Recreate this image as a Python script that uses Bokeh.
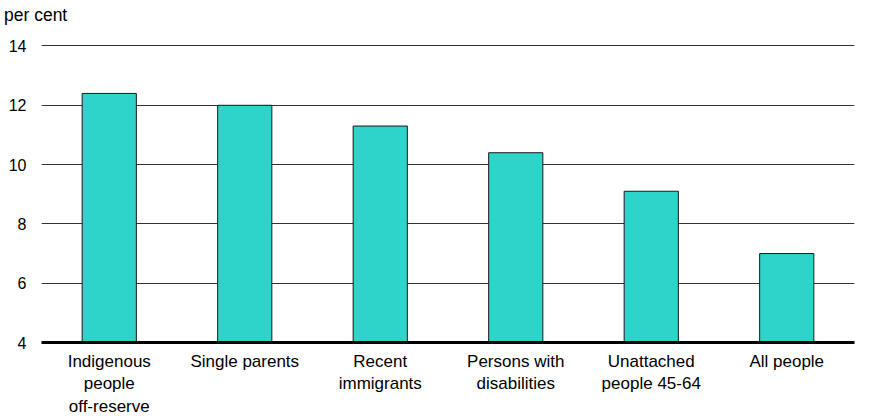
from bokeh.plotting import figure
from bokeh.models import FixedTicker, Div
from bokeh.layouts import column
from bokeh.embed import file_html
from bokeh.resources import INLINE

categories = ["Indigenous\npeople\noff-reserve", "Single parents", "Recent\nimmigrants",
              "Persons with\ndisabilities", "Unattached\npeople 45-64", "All people"]
values = [12.4, 12.0, 11.3, 10.4, 9.1, 7.0]
y_ticks = [4, 6, 8, 10, 12, 14]
y_unit = "per cent"

FONT = "Liberation Sans"

header = Div(text=y_unit, width=200, height=30,
             styles={"font-family": FONT, "font-size": "17.5px", "color": "black",
                     "line-height": "20px", "padding-top": "5px", "padding-left": "4px",
                     "margin": "0px"})

p = figure(x_range=categories, y_range=(4, 14.05),
           frame_width=813, frame_height=298,
           output_backend="svg", toolbar_location=None,
           min_border_left=41, min_border_right=7, min_border_top=14, min_border_bottom=60)
p.outline_line_color = None
p.background_fill_color = "white"

p.vbar(x=categories, top=values, bottom=4, width=0.4,
       fill_color="#2ED3CA", line_color="#1a1a1a", line_width=1)

p.xgrid.grid_line_color = None
p.ygrid.grid_line_color = "#333333"
p.ygrid.grid_line_width = 1
p.ygrid.ticker = FixedTicker(ticks=y_ticks[1:])

p.yaxis.ticker = FixedTicker(ticks=y_ticks)
p.yaxis.axis_line_color = None
p.yaxis.major_tick_line_color = None
p.yaxis.major_tick_out = 0
p.yaxis.minor_tick_line_color = None
p.yaxis.minor_tick_out = 0
p.yaxis.major_label_text_font = FONT
p.yaxis.major_label_text_font_size = "16px"
p.yaxis.major_label_text_color = "black"
p.yaxis.major_label_standoff = 15

p.xaxis.axis_line_color = "black"
p.xaxis.axis_line_width = 3
p.xaxis.major_tick_line_color = None
p.xaxis.major_tick_out = 0
p.xaxis.minor_tick_line_color = None
p.xaxis.minor_tick_out = 0
p.xaxis.major_label_text_font = FONT
p.xaxis.major_label_text_font_size = "17px"
p.xaxis.major_label_text_color = "black"
p.xaxis.major_label_standoff = 9

layout = column(header, p, spacing=0)

open("out.html", "w").write(file_html(layout, INLINE))
